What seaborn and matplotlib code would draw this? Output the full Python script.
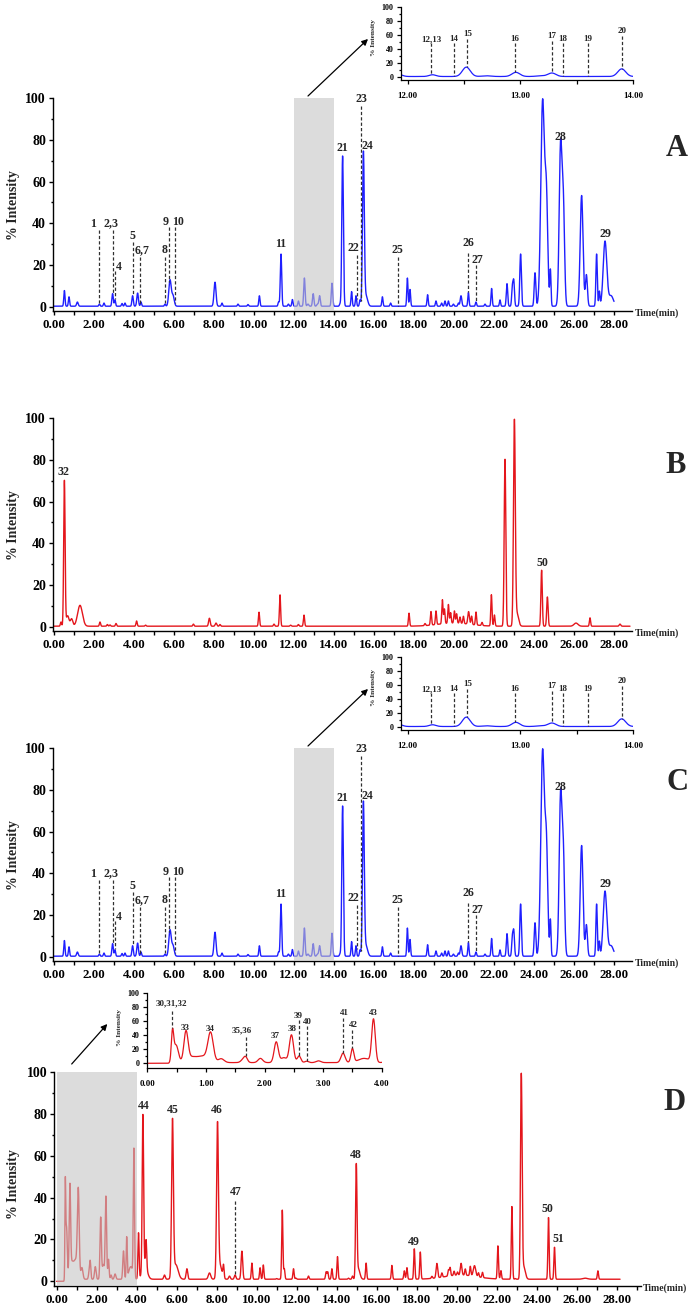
import numpy as np
import pandas as pd
import matplotlib
matplotlib.use("Agg")
import matplotlib.pyplot as plt
import seaborn as sns
from matplotlib.ticker import MultipleLocator, FormatStrFormatter

# ---------------- data ----------------
# Chromatogram A / C (blue): retention time (min), relative height (%), peak width (sigma, min)
a_rt = [0.52, 0.75, 1.17, 2.27, 2.50,
        2.93, 3.05, 3.40, 3.55, 3.93,
        4.18, 4.35, 5.55, 5.80, 5.95,
        8.05, 8.40, 9.20, 9.70, 10.27,
        11.23, 11.35, 11.72, 11.92, 12.22,
        12.52, 12.70, 12.96, 13.18, 13.28,
        13.90, 14.30, 14.43, 14.88, 15.10,
        15.30, 15.47, 15.60, 16.42, 16.83,
        17.67, 17.80, 18.68, 19.10, 19.38,
        19.55, 19.72, 19.97, 20.22, 20.35,
        20.72, 21.10, 21.55, 21.88, 22.30,
        22.65, 22.92, 22.99, 23.33, 24.05,
        24.43, 24.62, 24.82, 25.33, 25.47,
        26.38, 26.62, 27.13, 27.27, 27.55,
        27.85]
a_height = [7.5, 4.5, 2.0, 1.0, 1.5,
            6.0, 3.0, 1.3, 1.5, 5.0,
            6.3, 2.0, 1.0, 12.5, 5.0,
            11.5, 1.5, 1.0, 0.8, 5.0,
            2.0, 25.0, 1.0, 3.2, 2.5,
            13.5, 1.0, 6.0, 1.0, 5.0,
            11.0, 1.0, 72.0, 7.0, 5.0,
            3.0, 73.0, 5.0, 4.5, 1.5,
            13.5, 8.0, 5.5, 2.5, 1.5,
            2.5, 2.5, 1.0, 1.5, 5.0,
            6.5, 2.0, 1.0, 8.5, 3.0,
            10.8, 9.0, 11.5, 25.0, 16.0,
            98.0, 50.0, 17.0, 77.0, 45.0,
            53.0, 15.0, 25.0, 7.0, 31.0,
            5.0]
a_width = [0.03, 0.03, 0.04, 0.03, 0.03,
           0.035, 0.03, 0.03, 0.03, 0.035,
           0.04, 0.03, 0.03, 0.06, 0.06,
           0.05, 0.03, 0.03, 0.03, 0.03,
           0.03, 0.035, 0.03, 0.03, 0.03,
           0.035, 0.04, 0.035, 0.04, 0.035,
           0.035, 0.03, 0.04, 0.03, 0.03,
           0.03, 0.045, 0.08, 0.03, 0.03,
           0.03, 0.03, 0.03, 0.03, 0.03,
           0.03, 0.03, 0.03, 0.03, 0.04,
           0.03, 0.03, 0.03, 0.03, 0.03,
           0.035, 0.035, 0.035, 0.04, 0.04,
           0.09, 0.07, 0.03, 0.07, 0.06,
           0.07, 0.05, 0.035, 0.03, 0.09,
           0.12]
a_base = 0.3
a_end = 28.0

# Chromatogram B (red)
b_rt = [0.35, 0.52, 0.68, 0.88, 1.30,
        2.30, 2.67, 2.80, 3.10, 4.13,
        4.58, 6.97, 7.77, 8.10, 8.30,
        10.25, 11.00, 11.30, 11.83, 12.22,
        12.50, 17.75, 18.55, 18.85, 19.10,
        19.42, 19.52, 19.72, 19.83, 20.02,
        20.13, 20.30, 20.47, 20.73, 20.88,
        21.10, 21.40, 21.87, 22.02, 22.55,
        23.02, 23.15, 24.38, 24.67, 26.10,
        26.80, 28.30, 20.00]
b_height = [2.0, 69.5, 5.0, 3.5, 10.0,
            2.0, 0.8, 0.6, 1.3, 2.5,
            0.5, 1.0, 3.8, 1.5, 0.8,
            6.7, 1.0, 15.0, 0.5, 0.8,
            5.3, 6.2, 1.0, 6.5, 6.5,
            11.5, 7.0, 9.0, 5.0, 5.8,
            4.5, 3.0, 3.5, 6.0, 4.0,
            6.2, 1.5, 15.0, 5.3, 80.0,
            97.5, 6.0, 26.8, 14.0, 1.5,
            4.0, 1.0, 1.5]
b_width = [0.03, 0.035, 0.07, 0.06, 0.12,
           0.03, 0.03, 0.03, 0.03, 0.03,
           0.03, 0.03, 0.04, 0.04, 0.03,
           0.03, 0.03, 0.03, 0.03, 0.03,
           0.03, 0.03, 0.03, 0.03, 0.03,
           0.03, 0.03, 0.03, 0.03, 0.03,
           0.03, 0.03, 0.03, 0.04, 0.03,
           0.03, 0.03, 0.03, 0.03, 0.04,
           0.045, 0.08, 0.035, 0.035, 0.1,
           0.03, 0.04, 0.8]
b_base = 0.3
b_end = 28.8

# Chromatogram D (red)
d_rt = [0.43, 0.49, 0.66, 0.75, 0.95,
        1.08, 1.26, 1.64, 1.68, 1.93,
        2.20, 2.33, 2.46, 2.59, 2.72,
        2.92, 3.34, 3.50, 3.70, 3.86,
        4.09, 4.31, 4.40, 4.47, 5.39,
        5.79, 5.95, 6.51, 7.64, 8.04,
        8.15, 8.34, 8.64, 8.92, 9.26,
        9.76, 10.17, 10.33, 11.00, 11.28,
        11.38, 11.84, 11.96, 12.59, 13.47,
        13.55, 13.76, 14.04, 14.59, 14.79,
        14.98, 15.08, 15.47, 16.76, 17.38,
        17.51, 17.88, 18.18, 18.76, 19.01,
        19.26, 19.59, 19.67, 19.87, 20.04,
        20.22, 20.43, 20.68, 20.89, 21.09,
        21.29, 22.06, 22.21, 22.76, 22.93,
        23.23, 23.35, 24.59, 24.89, 26.42,
        27.06, 20.20]
d_height = [40.5, 25.0, 42.0, 7.0, 9.0,
            40.0, 5.5, 4.5, 6.0, 6.0,
            29.5, 7.0, 39.5, 9.5, 2.0,
            2.5, 13.5, 19.5, 6.0, 61.0,
            22.0, 73.5, 7.0, 13.0, 2.0,
            74.0, 7.0, 5.0, 3.0, 71.5,
            7.0, 6.0, 1.5, 2.0, 13.4,
            7.7, 5.5, 6.8, 0.3, 33.0,
            5.0, 5.0, 0.5, 1.5, 3.5,
            3.5, 5.0, 10.8, 0.5, 1.5,
            53.0, 5.0, 7.7, 6.6, 4.0,
            5.5, 14.5, 12.9, 1.0, 6.9,
            2.0, 3.0, 4.0, 2.0, 1.5,
            5.6, 3.0, 4.5, 5.1, 2.0,
            2.5, 15.8, 4.0, 34.7, 0.3,
            96.5, 6.0, 29.5, 15.3, 0.5,
            4.0, 2.0]
d_width = [0.02, 0.04, 0.035, 0.08, 0.1,
           0.045, 0.05, 0.04, 0.03, 0.04,
           0.035, 0.05, 0.035, 0.03, 0.03,
           0.04, 0.035, 0.025, 0.1, 0.03,
           0.03, 0.035, 0.12, 0.03, 0.04,
           0.045, 0.12, 0.04, 0.06, 0.045,
           0.1, 0.03, 0.04, 0.04, 0.04,
           0.03, 0.03, 0.03, 0.03, 0.03,
           0.03, 0.03, 0.03, 0.03, 0.03,
           0.03, 0.03, 0.03, 0.03, 0.03,
           0.035, 0.08, 0.03, 0.03, 0.03,
           0.03, 0.03, 0.03, 0.03, 0.04,
           0.03, 0.03, 0.03, 0.03, 0.03,
           0.04, 0.03, 0.03, 0.06, 0.03,
           0.03, 0.03, 0.03, 0.03, 0.03,
           0.04, 0.08, 0.03, 0.03, 0.12,
           0.03, 0.8]
d_base = 1.0
d_base_start = 0.40
d_end = 28.17

# Peak annotations: (label, label_time, label_height, dashed_line_time, dashed_line_top)
a_labels = [("1", 1.97, 39.7, 2.27, 37.0), ("2,3", 2.83, 40.0, 2.93, 37.0),
            ("4", 3.25, 19.0, 3.05, 17.0), ("5", 3.90, 34.0, 3.93, 31.0),
            ("6,7", 4.38, 27.0, 4.30, 24.0), ("8", 5.52, 27.0, 5.55, 24.0),
            ("9", 5.58, 40.5, 5.77, 38.0), ("10", 6.22, 40.5, 6.05, 38.0),
            ("11", 11.35, 30.0, None, None), ("21", 14.43, 76.0, None, None),
            ("22", 14.97, 28.0, 15.13, 25.0), ("23", 15.35, 99.4, 15.33, 96.0),
            ("24", 15.67, 77.0, None, None), ("25", 17.17, 27.0, 17.22, 24.0),
            ("26", 20.72, 30.5, 20.72, 26.0), ("27", 21.18, 22.6, 21.10, 20.0),
            ("28", 25.30, 81.5, None, None), ("29", 27.55, 35.0, None, None)]
a_inset_labels = [("12,13", 12.21, 54, 12.21, 48), ("14", 12.41, 54, 12.41, 48),
                  ("15", 12.53, 62, 12.53, 55), ("16", 12.95, 54, 12.95, 48),
                  ("17", 13.28, 59, 13.28, 51), ("18", 13.38, 54, 13.38, 48),
                  ("19", 13.60, 54, 13.60, 48), ("20", 13.90, 66, 13.90, 58)]
b_labels = [("32", 0.47, 74.3, None, None), ("50", 24.42, 30.8, None, None)]
d_labels = [("44", 4.375, 83.7, None, None), ("45", 5.81, 81.8, None, None),
            ("46", 8.00, 82.0, None, None), ("47", 8.96, 42.7, 8.92, 38.4),
            ("48", 14.98, 60.5, None, None), ("49", 17.84, 18.6, None, None),
            ("50", 24.56, 34.5, None, None), ("51", 25.06, 20.3, None, None)]
d_inset_labels = [("30,31,32", 0.42, 85.7, 0.43, 75), ("33", 0.65, 50.0, None, None),
                  ("34", 1.07, 49.0, None, None), ("35,36", 1.61, 46.6, 1.68, 37),
                  ("37", 2.18, 39.0, None, None), ("38", 2.48, 48.6, None, None),
                  ("39", 2.58, 68.0, 2.59, 62), ("40", 2.73, 59.5, 2.72, 53),
                  ("41", 3.37, 71.4, 3.34, 65), ("42", 3.52, 54.0, 3.50, 48),
                  ("43", 3.85, 71.4, None, None)]

BLUE = "#1f1fff"
RED = "#e4161c"

# ---------------- build traces from peak tables ----------------
def build_trace(rt, height, width, end, base, base_start=0.0):
    t = np.arange(0.0, end + 1e-9, 0.004)
    y = np.where(t >= base_start, base, 0.0)
    for r, h, w in zip(rt, height, width):
        y = y + h * np.exp(-0.5 * ((t - r) / w) ** 2)
    return pd.DataFrame({"time": t, "intensity": y})

df_a = build_trace(a_rt, a_height, a_width, a_end, a_base)
df_b = build_trace(b_rt, b_height, b_width, b_end, b_base)
df_d = build_trace(d_rt, d_height, d_width, d_end, d_base, d_base_start)

# ---------------- style ----------------
sns.set_style("ticks")
plt.rcParams["font.family"] = ["Liberation Serif", "DejaVu Serif"]
plt.rcParams["font.weight"] = "bold"
plt.rcParams["axes.labelweight"] = "bold"
plt.rcParams["axes.edgecolor"] = "black"
plt.rcParams["xtick.color"] = "black"
plt.rcParams["ytick.color"] = "black"

W, H = 699, 1311
fig = plt.figure(figsize=(W / 100, H / 100), dpi=100)


def px_axes(l, t, r, b):
    return fig.add_axes([l / W, 1 - b / H, (r - l) / W, (b - t) / H])


def draw_labels(ax, df, labels, fs):
    for text, tx, ty, lt, ltop in labels:
        ax.text(tx, ty, text, ha="center", va="center", fontsize=fs,
                fontweight="bold", clip_on=False, zorder=6)
        if lt is not None:
            ybot = np.interp(lt, df["time"], df["intensity"]) + 0.3
            ax.plot([lt, lt], [ltop, ybot], color="#303030", lw=0.9,
                    ls=(0, (2.6, 1.7)), zorder=5, clip_on=False)


def main_panel(ax, df, color, xlim, labels, letter, letter_xy, ylab_y, xlab_xy, box):
    sns.lineplot(data=df, x="time", y="intensity", ax=ax, color=color,
                 linewidth=1.0, estimator=None, sort=False, zorder=2)
    if box is not None:
        ax.axvspan(box[0], box[1], color="#c5c5c5", alpha=0.6, lw=0, zorder=3)
    ax.set_xlim(*xlim)
    ax.set_ylim(-2, 100)
    for s in ["top", "right"]:
        ax.spines[s].set_visible(False)
    for s in ["left", "bottom"]:
        ax.spines[s].set_linewidth(1.0)
    ax.xaxis.set_major_locator(MultipleLocator(2))
    ax.xaxis.set_minor_locator(MultipleLocator(1))
    ax.yaxis.set_major_locator(MultipleLocator(20))
    ax.yaxis.set_minor_locator(MultipleLocator(10))
    ax.xaxis.set_major_formatter(FormatStrFormatter("%.2f"))
    ax.tick_params(axis="x", which="both", direction="out", length=3.0, width=1.0,
                   labelsize=9.3, pad=3)
    ax.tick_params(axis="y", which="major", direction="out", length=3.0, width=1.0,
                   labelsize=10, pad=2)
    ax.tick_params(axis="y", which="minor", direction="out", length=1.7, width=1.0)
    ax.set_ylabel("% Intensity", fontsize=10, fontweight="bold", va="center")
    ax.yaxis.set_label_coords(14 / W, 1 - ylab_y / H, transform=fig.transFigure)
    ax.set_xlabel("Time(min)", fontsize=7, fontweight="bold", ha="left", va="center")
    ax.xaxis.set_label_coords(xlab_xy[0] / W, 1 - xlab_xy[1] / H, transform=fig.transFigure)
    fig.text(letter_xy[0] / W, 1 - letter_xy[1] / H, letter, fontsize=22,
             fontweight="bold", ha="center", va="center")
    draw_labels(ax, df, labels, 8.6)


def inset_panel(ax, df, color, xlim, ylim, xmaj, xmin, labels, ylab_xy):
    sns.lineplot(data=df, x="time", y="intensity", ax=ax, color=color,
                 linewidth=0.9, estimator=None, sort=False, zorder=2)
    ax.set_xlim(*xlim)
    ax.set_ylim(*ylim)
    for s in ["top", "right"]:
        ax.spines[s].set_visible(False)
    for s in ["left", "bottom"]:
        ax.spines[s].set_linewidth(0.9)
    ax.xaxis.set_major_locator(MultipleLocator(xmaj))
    ax.xaxis.set_minor_locator(MultipleLocator(xmin))
    ax.yaxis.set_major_locator(MultipleLocator(20))
    ax.yaxis.set_minor_locator(MultipleLocator(10))
    ax.xaxis.set_major_formatter(FormatStrFormatter("%.2f"))
    ax.tick_params(axis="x", which="major", direction="out", length=3.0, width=0.9,
                   labelsize=6.3, pad=6)
    ax.tick_params(axis="x", which="minor", direction="out", length=3.0, width=0.9)
    ax.tick_params(axis="y", which="major", direction="out", length=3.0, width=0.9,
                   labelsize=5.8, pad=2.5)
    ax.tick_params(axis="y", which="minor", direction="out", length=1.6, width=0.9)
    ax.set_ylabel("% Intensity", fontsize=5.3, fontweight="bold", va="center")
    ax.yaxis.set_label_coords(ylab_xy[0] / W, 1 - ylab_xy[1] / H, transform=fig.transFigure)
    ax.set_xlabel("")
    draw_labels(ax, df, labels, 6.5)


def arrow(start, tip):
    fig.add_artist(matplotlib.patches.FancyArrowPatch(
        (start[0] / W, 1 - start[1] / H), (tip[0] / W, 1 - tip[1] / H),
        transform=fig.transFigure, arrowstyle="-|>", mutation_scale=9,
        color="black", lw=0.9, shrinkA=0, shrinkB=0))


# ---------------- panel A ----------------
axA = px_axes(53, 98, 632, 311)
main_panel(axA, df_a, BLUE, (-0.05, 28.9), a_labels, "A", (677, 149), 205, (635, 313), (12, 14))
axAi = px_axes(401, 7.3, 633, 80)
inset_panel(axAi, df_a, BLUE, (11.94, 14.0), (-4.75, 100), 1.0, 0.5, a_inset_labels, (374, 37))
arrow((308, 96), (368, 39))

# ---------------- panel B ----------------
axB = px_axes(53, 418, 632, 631)
main_panel(axB, df_b, RED, (-0.05, 28.9), b_labels, "B", (676, 465), 525, (635, 633), None)

# ---------------- panel C ----------------
axC = px_axes(53, 748, 632, 961)
main_panel(axC, df_a, BLUE, (-0.05, 28.9), a_labels, "C", (677, 783), 855, (635, 963), (12, 14))
axCi = px_axes(401, 657.3, 633, 730)
inset_panel(axCi, df_a, BLUE, (11.94, 14.0), (-4.75, 100), 1.0, 0.5, a_inset_labels, (374, 687))
arrow((308, 746), (368, 689))

# ---------------- panel D ----------------
axD = px_axes(54.3, 1072, 640.7, 1285.5)
main_panel(axD, df_d, RED, (-0.12, 29.2), d_labels, "D", (675, 1103), 1184, (643, 1288), (0, 4))
axDi = px_axes(147.3, 993.3, 381.7, 1067.7)
inset_panel(axDi, df_d, RED, (0.0, 4.0), (-6.3, 100), 1.0, 0.5, d_inset_labels, (120, 1028))
arrow((71.7, 1064), (107.3, 1024))

fig.savefig("out.png", dpi=100)
